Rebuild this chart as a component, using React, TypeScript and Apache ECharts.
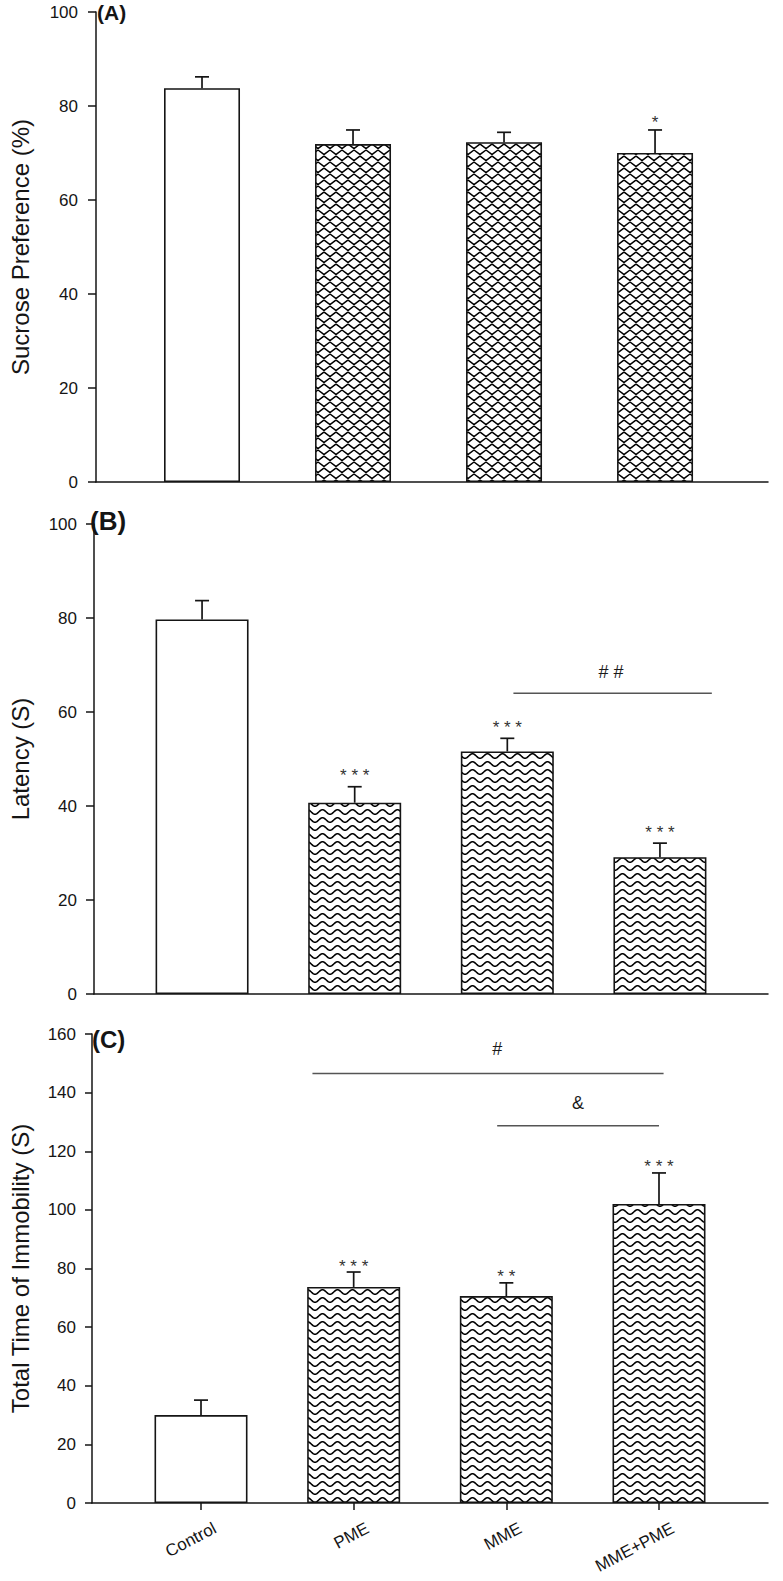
import React, { useEffect, useRef } from 'react';
import * as echarts from 'echarts';

const categories = ['Control', 'PME', 'MME', 'MME+PME'];
const categoryPos = [0, 1, 2, 3];

const sucroseMean = [83.8, 71.9, 72.3, 70.0];
const sucroseUpper = [86.2, 74.9, 74.4, 74.9];
const sucroseStars = ['', '', '', '*'];

const latencyMean = [79.7, 40.7, 51.6, 29.1];
const latencyUpper = [83.7, 44.1, 54.4, 32.1];
const latencyStars = ['', '***', '***', '***'];

const immobilityMean = [30.0, 73.7, 70.6, 102.0];
const immobilityUpper = [35.1, 78.8, 75.1, 112.6];
const immobilityStars = ['', '***', '**', '***'];

const yTicks100 = [0, 20, 40, 60, 80, 100];
const yTicks160 = [0, 20, 40, 60, 80, 100, 120, 140, 160];

// comparison brackets: [from, to, y, labelX, labelY]
const latencyBrackets = [[2.04, 3.34, 64.0, 2.68, 68.5]];
const latencyBracketLabels = ['# #'];
const immobilityBrackets = [
  [0.73, 3.03, 146.5, 1.94, 155.0],
  [1.94, 3.0, 128.7, 2.47, 136.5],
];
const immobilityBracketLabels = ['#', '&'];

const FONT = '"Liberation Sans", Arial, Helvetica, sans-serif';
const INK = '#151515';

function makeMaze(): string {
  const c = document.createElement('canvas');
  c.width = 12;
  c.height = 12;
  const g = c.getContext('2d')!;
  g.fillStyle = '#ffffff';
  g.fillRect(0, 0, 12, 12);
  g.strokeStyle = '#000000';
  g.lineWidth = 1.5;
  const rows = [
    [-6, 6],
    [0, 0],
    [6, 6],
    [12, 0],
  ];
  for (const [y0, shift] of rows) {
    g.beginPath();
    for (let k = -2; k <= 3; k++) {
      const xTop = k * 12 + shift;
      g.moveTo(xTop, y0);
      g.lineTo(xTop + 6, y0 + 4.5);
      g.lineTo(xTop + 12, y0);
    }
    g.stroke();
  }
  return c.toDataURL();
}

function makeWave(): string {
  const w = 15;
  const h = 8;
  const c = document.createElement('canvas');
  c.width = w;
  c.height = h;
  const g = c.getContext('2d')!;
  g.fillStyle = '#ffffff';
  g.fillRect(0, 0, w, h);
  g.strokeStyle = '#000000';
  g.lineWidth = 1.6;
  g.beginPath();
  for (let x = -1; x <= w + 1; x += 0.5) {
    const y = 4 + 2.3 * Math.cos((2 * Math.PI * x) / w);
    if (x === -1) g.moveTo(x, y);
    else g.lineTo(x, y);
  }
  g.stroke();
  return c.toDataURL();
}

function buildOption() {
  const maze = { image: makeMaze(), repeat: 'repeat', imageWidth: 12, imageHeight: 12 };
  const wave = { image: makeWave(), repeat: 'repeat', imageWidth: 15, imageHeight: 8 };

  const panels = [
    {
      mean: sucroseMean, upper: sucroseUpper, stars: sucroseStars, ticks: yTicks100,
      title: 'Sucrose Preference (%)',
      grid: { left: 90, top: 12, width: 678, height: 470 },
      xMin: -0.702, xMax: 3.748, barWidth: 76, pattern: maze, starOff: 11,
      labelMargin: 18, nameGap: 64, tickLen: 8, showX: false,
      brackets: [] as number[][], bracketLabels: [] as string[],
    },
    {
      mean: latencyMean, upper: latencyUpper, stars: latencyStars, ticks: yTicks100,
      title: 'Latency (S)',
      grid: { left: 88, top: 524, width: 680, height: 470 },
      xMin: -0.708, xMax: 3.708, barWidth: 93, pattern: wave, starOff: 15,
      labelMargin: 17, nameGap: 62, tickLen: 8, showX: false,
      brackets: latencyBrackets, bracketLabels: latencyBracketLabels,
    },
    {
      mean: immobilityMean, upper: immobilityUpper, stars: immobilityStars, ticks: yTicks160,
      title: 'Total Time of Immobility (S)',
      grid: { left: 86, top: 1034, width: 682, height: 469 },
      xMin: -0.714, xMax: 3.714, barWidth: 93, pattern: wave, starOff: 10,
      labelMargin: 16, nameGap: 60, tickLen: 7, showX: true,
      brackets: immobilityBrackets, bracketLabels: immobilityBracketLabels,
    },
  ];

  const grid: any[] = [];
  const xAxis: any[] = [];
  const yAxis: any[] = [];
  const series: any[] = [];

  panels.forEach((p, i) => {
    grid.push({ ...p.grid, containLabel: false });
    xAxis.push({
      type: 'value',
      gridIndex: i,
      min: p.xMin,
      max: p.xMax,
      axisLine: { show: true, onZero: false, lineStyle: { color: INK, width: 1.5 } },
      axisTick: {
        show: p.showX,
        customValues: categoryPos,
        length: 7,
        lineStyle: { color: INK, width: 1.5 },
      },
      axisLabel: { show: false },
      splitLine: { show: false },
    });
    yAxis.push({
      type: 'value',
      gridIndex: i,
      min: p.ticks[0],
      max: p.ticks[p.ticks.length - 1],
      interval: p.ticks[1] - p.ticks[0],
      axisLine: { show: true, onZero: false, lineStyle: { color: INK, width: 1.5 } },
      axisTick: { show: true, inside: false, length: p.tickLen, lineStyle: { color: INK, width: 1.5 } },
      axisLabel: { margin: p.labelMargin, color: INK, fontSize: 17, fontFamily: FONT },
      splitLine: { show: false },
      name: p.title,
      nameLocation: 'middle',
      nameGap: p.nameGap,
      nameTextStyle: { color: INK, fontSize: 24, fontFamily: FONT },
    });

    series.push({
      type: 'bar',
      xAxisIndex: i,
      yAxisIndex: i,
      barWidth: p.barWidth,
      data: p.mean.map((v, k) => ({
        value: [categoryPos[k], v],
        itemStyle: { color: k === 0 ? '#ffffff' : p.pattern },
      })),
      itemStyle: { borderColor: INK, borderWidth: 1.6 },
      silent: true,
    });

    series.push({
      type: 'custom',
      xAxisIndex: i,
      yAxisIndex: i,
      encode: { x: 0, y: 1 },
      data: p.mean.map((v, k) => [categoryPos[k], v, p.upper[k]]),
      renderItem: (_params: any, api: any) => {
        const x = api.value(0);
        const a = api.coord([x, api.value(1)]);
        const b = api.coord([x, api.value(2)]);
        const st = { stroke: INK, lineWidth: 1.7 };
        return {
          type: 'group',
          children: [
            { type: 'line', shape: { x1: a[0], y1: a[1], x2: b[0], y2: b[1] }, style: st },
            { type: 'line', shape: { x1: b[0] - 7, y1: b[1], x2: b[0] + 7, y2: b[1] }, style: st },
          ],
        };
      },
      silent: true,
      z: 5,
    });

    series.push({
      type: 'custom',
      xAxisIndex: i,
      yAxisIndex: i,
      encode: { x: 0, y: 1 },
      data: p.upper.map((u, k) => [categoryPos[k], u]),
      renderItem: (params: any, api: any) => {
        const s = p.stars[params.dataIndex];
        if (!s) return null;
        const c = api.coord([api.value(0), api.value(1)]);
        return {
          type: 'text',
          x: c[0],
          y: c[1] - p.starOff + 4,
          style: {
            text: s.split('').join(' '),
            fill: '#333333',
            fontSize: 17,
            fontFamily: FONT,
            align: 'center',
            verticalAlign: 'middle',
          },
        };
      },
      silent: true,
      z: 6,
    });

    if (p.brackets.length) {
      series.push({
        type: 'custom',
        xAxisIndex: i,
        yAxisIndex: i,
        encode: { x: 0, y: 2 },
        data: p.brackets,
        renderItem: (params: any, api: any) => {
          const y = api.value(2);
          const a = api.coord([api.value(0), y]);
          const b = api.coord([api.value(1), y]);
          const t = api.coord([api.value(3), api.value(4)]);
          return {
            type: 'group',
            children: [
              { type: 'line', shape: { x1: a[0], y1: a[1], x2: b[0], y2: b[1] }, style: { stroke: '#555555', lineWidth: 1.4 } },
              {
                type: 'text',
                x: t[0],
                y: t[1],
                style: {
                  text: p.bracketLabels[params.dataIndex],
                  fill: '#1a1a1a',
                  fontSize: 18,
                  fontFamily: FONT,
                  align: 'center',
                  verticalAlign: 'middle',
                },
              },
            ],
          };
        },
        silent: true,
        z: 6,
      });
    }

    if (p.showX) {
      const rot = (28 * Math.PI) / 180;
      series.push({
        type: 'custom',
        xAxisIndex: i,
        yAxisIndex: i,
        encode: { x: 0, y: 1 },
        data: categoryPos.map((x) => [x, 0]),
        renderItem: (params: any, api: any) => {
          const c = api.coord([api.value(0), api.value(1)]);
          return {
            type: 'text',
            x: c[0] + 14,
            y: c[1] + 24,
            rotation: rot,
            style: {
              text: categories[params.dataIndex],
              fill: INK,
              fontSize: 17,
              fontFamily: FONT,
              align: 'right',
              verticalAlign: 'middle',
            },
          };
        },
        silent: true,
        z: 6,
      });
    }
  });

  const letter = (text: string, x: number, cy: number, size: number) => ({
    type: 'text',
    left: x,
    top: cy - size * 0.6,
    style: { text, fill: INK, font: `bold ${size}px ${FONT}` },
  });

  return {
    animation: false,
    backgroundColor: '#ffffff',
    grid,
    xAxis,
    yAxis,
    series,
    graphic: [
      letter('(A)', 97, 15, 21),
      letter('(B)', 90, 524, 26),
      letter('(C)', 92, 1042, 24),
    ],
  };
}

export default function App() {
  const ref = useRef<HTMLDivElement>(null);
  useEffect(() => {
    if (!ref.current) return;
    const chart = echarts.init(ref.current, null, { renderer: 'svg', width: 783, height: 1581 });
    chart.setOption(buildOption() as any);
    return () => chart.dispose();
  }, []);
  return (
    <div
      ref={ref}
      style={{ position: 'fixed', left: 0, top: 0, width: 783, height: 1581, background: '#ffffff' }}
    />
  );
}
